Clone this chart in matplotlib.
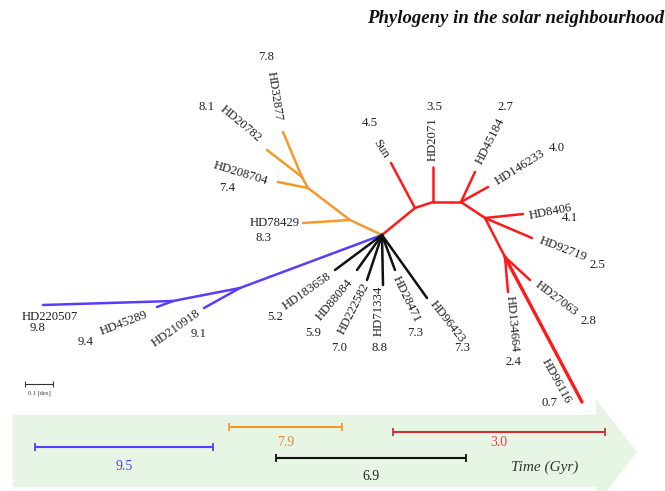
import matplotlib.pyplot as plt
from matplotlib.patches import Polygon


# star names and their ages (Gyr), grouped by clade
LEAVES = [
    "HD32877", "HD20782", "HD208704", "HD78429",
    "Sun", "HD2071", "HD45184", "HD146233", "HD8406", "HD92719",
    "HD27063", "HD134664", "HD96116",
    "HD183658", "HD88084", "HD222582", "HD71334", "HD28471", "HD96423",
    "HD220507", "HD45289", "HD210918",
]
AGES = [
    7.8, 8.1, 7.4, 8.3,
    4.5, 3.5, 2.7, 4.0, 4.1, 2.5,
    2.8, 2.4, 0.7,
    5.2, 5.9, 7.0, 8.8, 7.3, 7.3,
    9.8, 9.4, 9.1,
]
CLADE = (["orange"] * 4 + ["red"] * 9 + ["black"] * 6 + ["blue"] * 3)

# mean age of each clade, shown on the time arrow
CLADE_ORDER = ["blue", "orange", "black", "red"]
CLADE_MEAN_AGE = [9.5, 7.9, 6.9, 3.0]

COLORS = {
    "orange": "#f39a2c",
    "red": "#ff1a1a",
    "black": "#111111",
    "blue": "#5a3cff",
}
TEXT_COLORS = {
    "orange": "#d98a3a",
    "red": "#e0464a",
    "black": "#222222",
    "blue": "#5a3cf0",
}

# unrooted tree layout (drawing units, y grows downward)
NODES = {
    "root": (382, 235),
    "o1": (350, 220), "o2": (308, 188), "o3": (302, 177),
    "r1": (415, 208), "r2": (433, 202), "r3": (461, 202),
    "r4": (485, 218), "r5": (505, 257),
    "b1": (240, 288), "b2": (173, 301),
}
INTERNAL_EDGES = [
    ("root", "o1", "orange"), ("o1", "o2", "orange"), ("o2", "o3", "orange"),
    ("root", "r1", "red"), ("r1", "r2", "red"), ("r2", "r3", "red"),
    ("r3", "r4", "red"), ("r4", "r5", "red"),
    ("root", "b1", "blue"), ("b1", "b2", "blue"),
]
LEAF_PARENT = [
    "o3", "o3", "o2", "o1",
    "r1", "r2", "r3", "r3", "r4", "r4",
    "r5", "r5", "r5",
    "root", "root", "root", "root", "root", "root",
    "b2", "b2", "b1",
]
LEAF_TIPS = [
    (283, 132), (267, 150), (278, 182), (303, 223),
    (391, 163), (433, 167), (475, 172), (488, 187), (523, 214), (532, 238),
    (530, 280), (508, 292), (582, 402),
    (335, 270), (357, 270), (367, 280), (383, 285), (395, 270), (427, 298),
    (43, 305), (157, 307), (204, 308),
]
NAME_POS = [
    (275, 96), (241, 124), (241, 173), (275, 223),
    (381, 149), (433, 139), (490, 141), (520, 167), (551, 212), (563, 249),
    (556, 299), (512, 324), (556, 381),
    (307, 291), (335, 300), (354, 309), (379, 311), (406, 299), (447, 322),
    (50, 317), (124, 323), (176, 328),
]
NAME_ROT = [
    -81, -40, -17, 0,
    -58, 90, 63, 32, 11, -21,
    -37, -85, -61,
    35, 50, 63, 90, -64, -52,
    0, 21, 35,
]
AGE_POS = [
    (266, 57), (207, 107), (227, 188), (264, 238),
    (370, 123), (434, 107), (505, 107), (557, 148), (570, 218), (597, 265),
    (588, 321), (514, 362), (550, 403),
    (275, 317), (313, 333), (339, 348), (380, 348), (415, 333), (462, 348),
    (38, 328), (86, 342), (199, 334),
]

# schematic spans of the clades along the time arrow
BAR_SPANS = [(35, 213), (229, 342), (276, 466), (393, 605)]
BAR_Y = [447, 427, 458, 432]
BAR_LABEL_Y = [467, 442, 476, 442]

W, H = 665, 491

plt.rcParams["font.family"] = ["Liberation Serif", "DejaVu Serif"]

fig = plt.figure(figsize=(W / 100, H / 100), dpi=100)
ax = fig.add_axes([0, 0, 1, 1])
ax.set_xlim(0, W)
ax.set_ylim(H, 0)
ax.axis("off")

# time arrow in the background
arrow = Polygon(
    [(13, 415), (596, 415), (596, 399), (637, 452), (596, 505),
     (596, 487), (13, 487)],
    closed=True, facecolor="#e7f5e5", edgecolor="none", zorder=0,
)
ax.add_patch(arrow)
ax.text(545, 467, "Time (Gyr)", fontsize=11, style="italic",
        ha="center", va="center", color="#333333")

for clade, age, (x0, x1), y, ly in zip(CLADE_ORDER, CLADE_MEAN_AGE,
                                       BAR_SPANS, BAR_Y, BAR_LABEL_Y):
    ax.errorbar((x0 + x1) / 2, y, xerr=(x1 - x0) / 2, fmt="none",
                ecolor=COLORS[clade] if clade != "red" else "#d03030",
                elinewidth=1.5, capsize=3, capthick=1.3, zorder=2)
    ax.text((x0 + x1) / 2, ly, f"{age:.1f}", fontsize=10,
            ha="center", va="center", color=TEXT_COLORS[clade])

# tree branches
for a, b, clade in INTERNAL_EDGES:
    (xa, ya), (xb, yb) = NODES[a], NODES[b]
    ax.plot([xa, xb], [ya, yb], color=COLORS[clade], lw=1.8,
            solid_capstyle="round", zorder=3)

for name, parent, tip, clade in zip(LEAVES, LEAF_PARENT, LEAF_TIPS, CLADE):
    xa, ya = NODES[parent]
    lw = 2.4 if name == "HD96116" else 1.8
    ax.plot([xa, tip[0]], [ya, tip[1]], color=COLORS[clade], lw=lw,
            solid_capstyle="round", zorder=3)

# star names and ages
for name, age, pos, rot, apos in zip(LEAVES, AGES, NAME_POS, NAME_ROT,
                                     AGE_POS):
    ax.text(pos[0], pos[1], name, fontsize=9.2, rotation=rot,
            rotation_mode="anchor", ha="center", va="center",
            color="#222222")
    ax.text(apos[0], apos[1], f"{age:.1f}", fontsize=9.2, ha="center",
            va="center", color="#222222")

# scale bar
ax.errorbar(39, 384, xerr=14, fmt="none", ecolor="#333333",
            elinewidth=0.8, capsize=2, capthick=0.8)
ax.text(39, 393, "0.1 [dex]", fontsize=4.5, ha="center", va="center",
        color="#333333")

ax.text(367, 18, "Phylogeny in the solar neighbourhood", fontsize=13.5,
        style="italic", fontweight="bold", ha="left", va="center",
        color="#111111")

fig.savefig("out.png", dpi=100)
